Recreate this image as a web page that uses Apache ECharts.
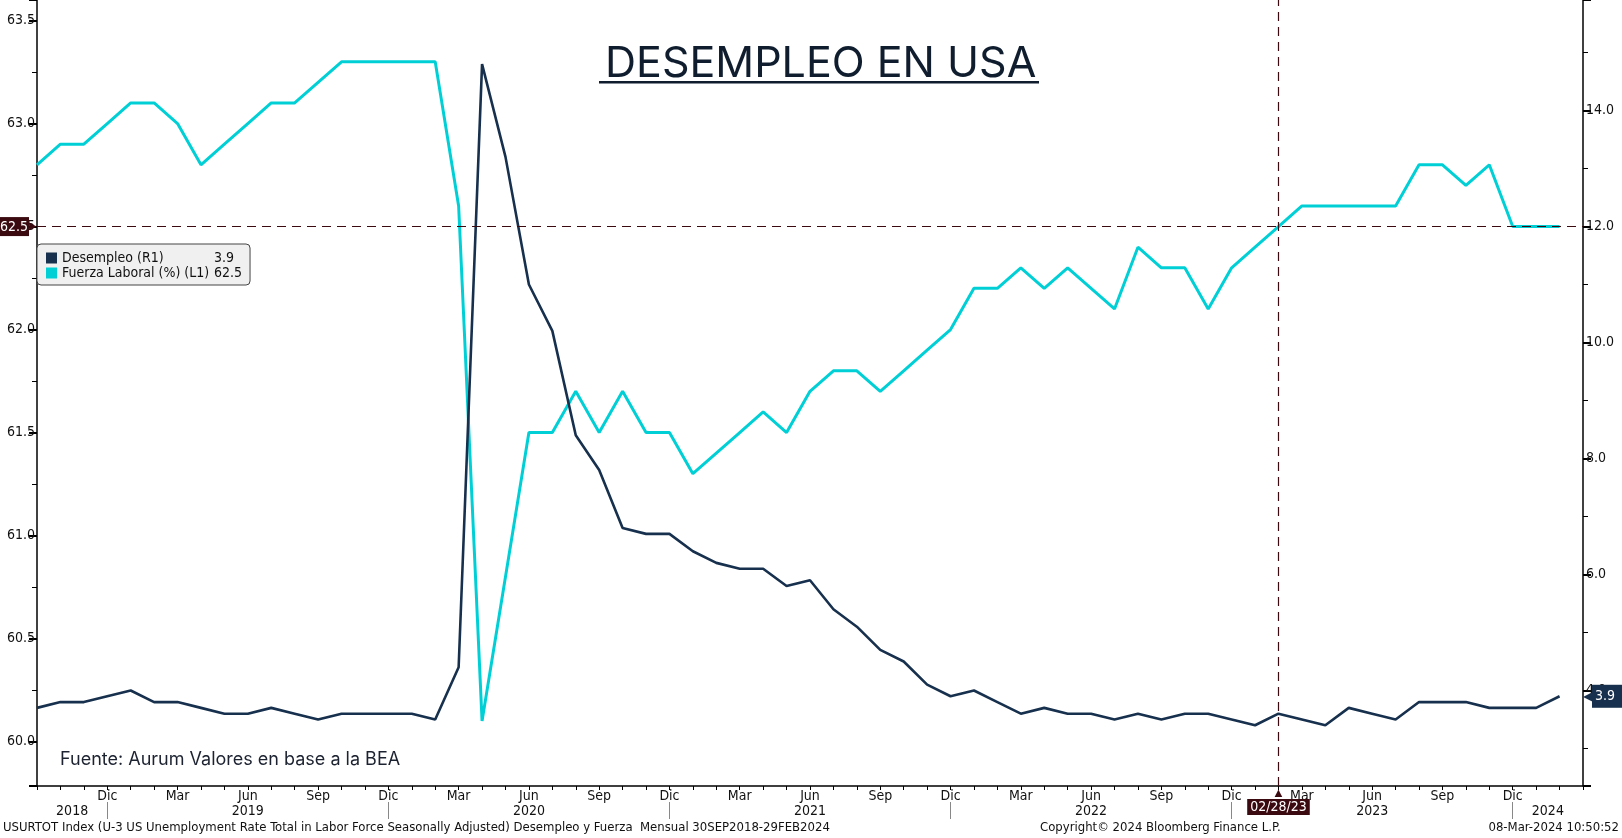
<!DOCTYPE html>
<html>
<head>
<meta charset="utf-8">
<title>Desempleo en USA</title>
<script src="https://cdn.jsdelivr.net/npm/echarts@6/dist/echarts.min.js"></script>
<style>
html, body { margin: 0; padding: 0; background: #fff; }
#chart { width: 1622px; height: 838px; }
</style>
</head>
<body>
<div id="chart"></div>
<script>
// meses (fin de mes) sep-2018 .. mar-2024, el ultimo solo alarga el eje
const meses = [
  '2018-09','2018-10','2018-11','2018-12',
  '2019-01','2019-02','2019-03','2019-04','2019-05','2019-06','2019-07','2019-08','2019-09','2019-10','2019-11','2019-12',
  '2020-01','2020-02','2020-03','2020-04','2020-05','2020-06','2020-07','2020-08','2020-09','2020-10','2020-11','2020-12',
  '2021-01','2021-02','2021-03','2021-04','2021-05','2021-06','2021-07','2021-08','2021-09','2021-10','2021-11','2021-12',
  '2022-01','2022-02','2022-03','2022-04','2022-05','2022-06','2022-07','2022-08','2022-09','2022-10','2022-11','2022-12',
  '2023-01','2023-02','2023-03','2023-04','2023-05','2023-06','2023-07','2023-08','2023-09','2023-10','2023-11','2023-12',
  '2024-01','2024-02','2024-03'
];
const desempleo = [
  3.7, 3.8, 3.8, 3.9,
  4.0, 3.8, 3.8, 3.7, 3.6, 3.6, 3.7, 3.6, 3.5, 3.6, 3.6, 3.6,
  3.6, 3.5, 4.4, 14.8, 13.2, 11.0, 10.2, 8.4, 7.8, 6.8, 6.7, 6.7,
  6.4, 6.2, 6.1, 6.1, 5.8, 5.9, 5.4, 5.1, 4.7, 4.5, 4.1, 3.9,
  4.0, 3.8, 3.6, 3.7, 3.6, 3.6, 3.5, 3.6, 3.5, 3.6, 3.6, 3.5,
  3.4, 3.6, 3.5, 3.4, 3.7, 3.6, 3.5, 3.8, 3.8, 3.8, 3.7, 3.7,
  3.7, 3.9
];
const fuerzaLaboral = [
  62.8, 62.9, 62.9, 63.0,
  63.1, 63.1, 63.0, 62.8, 62.9, 63.0, 63.1, 63.1, 63.2, 63.3, 63.3, 63.3,
  63.3, 63.3, 62.6, 60.1, 60.8, 61.5, 61.5, 61.7, 61.5, 61.7, 61.5, 61.5,
  61.3, 61.4, 61.5, 61.6, 61.5, 61.7, 61.8, 61.8, 61.7, 61.8, 61.9, 62.0,
  62.2, 62.2, 62.3, 62.2, 62.3, 62.2, 62.1, 62.4, 62.3, 62.3, 62.1, 62.3,
  62.4, 62.5, 62.6, 62.6, 62.6, 62.6, 62.6, 62.8, 62.8, 62.7, 62.8, 62.5,
  62.5, 62.5
];
const nombreMes = { '03': 'Mar', '06': 'Jun', '09': 'Sep', '12': 'Dic' };
const nombreDes = 'Desempleo (R1)';
const nombreFuerza = 'Fuerza Laboral (%) (L1)';
const mesMarcado = '2023-02';
const etiquetaMarcada = '02/28/23';
const nivelMarcado = 62.5;

const azul = '#17304d';
const cian = '#00d0d6';
const granate = '#3b0a10';
const fuenteEje = "'DejaVu Sans Condensed', 'Liberation Sans Narrow', sans-serif";
const fuenteTitulo = "Inter, Lato, sans-serif";

// cortes de año (dic) y centro de cada año para las etiquetas de abajo
const cortes = [];
meses.forEach((m, i) => { if (m.slice(5) === '12') cortes.push(i); });
const bordes = [0].concat(cortes, [meses.length - 1]);
const centrosAnio = [];
for (let i = 1; i < bordes.length; i++) centrosAnio.push((bordes[i - 1] + bordes[i]) / 2);

const ultDes = desempleo[desempleo.length - 1];
const ultFuerza = fuerzaLaboral[fuerzaLaboral.length - 1];

const chart = echarts.init(document.getElementById('chart'));

const option = {
  animation: false,
  backgroundColor: '#fff',
  title: {
    text: 'DESEMPLEO EN USA',
    left: 600,
    top: 38,
    textStyle: { fontFamily: fuenteTitulo, fontSize: 43, fontWeight: 'normal', color: '#0f1d2e' }
  },
  legend: {
    data: [nombreDes, nombreFuerza],
    orient: 'vertical',
    left: 37,
    top: 244,
    icon: 'rect',
    itemWidth: 11,
    itemHeight: 11,
    itemGap: 1,
    padding: [7, 8, 5, 9],
    backgroundColor: '#f0f0f0',
    borderColor: '#444',
    borderWidth: 1,
    borderRadius: 4,
    formatter: name => {
      const v = name === nombreDes ? ultDes : ultFuerza;
      return '{n|' + name + '}{v|' + v.toFixed(1) + '}';
    },
    textStyle: {
      fontFamily: fuenteEje,
      fontSize: 14,
      color: '#111',
      rich: {
        n: { width: 152, fontFamily: fuenteEje, fontSize: 14, lineHeight: 17, color: '#111' },
        v: { fontFamily: fuenteEje, fontSize: 14, lineHeight: 17, color: '#111' }
      }
    }
  },
  grid: { left: 37, right: 39, top: 0, bottom: 52, containLabel: false },
  xAxis: [
    {
      type: 'category',
      data: meses,
      boundaryGap: false,
      axisLine: { lineStyle: { color: '#000', width: 1.5 } },
      axisTick: { show: true, interval: 0, length: 4, lineStyle: { color: '#000' } },
      axisLabel: {
        interval: (i, v) => i > 0 && i < meses.length - 1 && nombreMes[v.slice(5)] !== undefined,
        formatter: v => nombreMes[v.slice(5)] || '',
        fontFamily: fuenteEje,
        fontSize: 14,
        color: '#111',
        margin: 3
      },
      splitLine: { show: false }
    },
    {
      type: 'value',
      position: 'bottom',
      offset: 16,
      min: 0,
      max: meses.length - 1,
      axisLine: { show: false },
      axisTick: { show: true, customValues: cortes, length: 17, lineStyle: { color: '#888' } },
      axisLabel: {
        customValues: centrosAnio,
        formatter: v => meses[Math.ceil(v)].slice(0, 4),
        fontFamily: fuenteEje,
        fontSize: 14,
        color: '#111',
        margin: 2
      },
      splitLine: { show: false }
    }
  ],
  yAxis: [
    {
      type: 'value',
      position: 'left',
      min: 59.784,
      max: 63.6,
      splitNumber: 7,
      axisLine: { show: true, lineStyle: { color: '#000', width: 1.5 } },
      axisTick: { show: true, length: 8, lineStyle: { color: '#000', width: 2 } },
      minorTick: { show: true, splitNumber: 2, length: 5, lineStyle: { color: '#000' } },
      axisLabel: {
        showMinLabel: false, showMaxLabel: false,
        formatter: v => v.toFixed(1),
        fontFamily: fuenteEje, fontSize: 14, color: '#111', margin: 2
      },
      splitLine: { show: false }
    },
    {
      type: 'value',
      position: 'right',
      min: 2.353,
      max: 15.905,
      splitNumber: 7,
      axisLine: { show: true, lineStyle: { color: '#000', width: 1.5 } },
      axisTick: { show: true, length: 8, lineStyle: { color: '#000', width: 2 } },
      minorTick: { show: true, splitNumber: 2, length: 5, lineStyle: { color: '#000' } },
      axisLabel: {
        showMinLabel: false, showMaxLabel: false,
        formatter: v => v.toFixed(1),
        fontFamily: fuenteEje, fontSize: 14, color: '#111', margin: 3
      },
      splitLine: { show: false }
    }
  ],
  series: [
    {
      name: nombreFuerza,
      type: 'line',
      yAxisIndex: 0,
      data: fuerzaLaboral,
      symbol: 'none',
      lineStyle: { color: cian, width: 3 },
      itemStyle: { color: cian },
      markLine: {
        silent: true,
        symbol: 'none',
        data: [
          {
            yAxis: nivelMarcado,
            lineStyle: { color: granate, type: [9, 6], width: 1.2 },
            label: {
              position: 'start',
              distance: 0,
              formatter: '{v|' + nivelMarcado.toFixed(1) + '}{a|▶}',
              rich: {
                v: { backgroundColor: granate, color: '#fff', fontFamily: fuenteEje, fontSize: 14, padding: [3, 1, 2, 2] },
                a: { color: granate, fontSize: 10 }
              }
            }
          },
          {
            xAxis: mesMarcado,
            lineStyle: { color: granate, type: [9, 6], width: 1.2 },
            label: {
              position: 'start',
              distance: 1,
              formatter: '{t|▲}\n{d|' + etiquetaMarcada + '}',
              rich: {
                t: { color: granate, fontSize: 13, lineHeight: 12, align: 'center' },
                d: { backgroundColor: granate, color: '#fff', fontFamily: fuenteEje, fontSize: 14, padding: [1, 3, 1, 3], align: 'center' }
              }
            }
          }
        ]
      }
    },
    {
      name: nombreDes,
      type: 'line',
      yAxisIndex: 1,
      data: desempleo,
      symbol: 'none',
      lineStyle: { color: azul, width: 2.6 },
      itemStyle: { color: azul },
      markLine: {
        silent: true,
        symbol: 'none',
        data: [
          {
            yAxis: ultDes,
            lineStyle: { color: 'rgba(0,0,0,0)', width: 1 },
            label: {
              show: true,
              position: 'end',
              distance: 0,
              formatter: '{a|◀}{v|' + ultDes.toFixed(1) + '}',
              rich: {
                a: { color: azul, fontSize: 12 },
                v: { backgroundColor: azul, color: '#fff', fontFamily: fuenteEje, fontSize: 14, padding: [5, 8, 4, 3] }
              }
            }
          }
        ]
      }
    }
  ],
  graphic: [
    {
      type: 'rect',
      shape: { x: 599, y: 81, width: 440, height: 2.5 },
      style: { fill: '#0f1d2e' },
      silent: true
    },
    {
      type: 'text',
      left: 60,
      top: 751,
      style: { text: 'Fuente: Aurum Valores en base a la BEA', font: '18px ' + fuenteTitulo, fill: '#1c2230' },
      silent: true
    },
    {
      type: 'text',
      left: 3,
      top: 821,
      style: {
        text: 'USURTOT Index (U-3 US Unemployment Rate Total in Labor Force Seasonally Adjusted) Desempleo y Fuerza  Mensual 30SEP2018-29FEB2024',
        font: '13px ' + fuenteEje, fill: '#111'
      },
      silent: true
    },
    {
      type: 'text',
      left: 1040,
      top: 821,
      style: { text: 'Copyright\u00a9 2024 Bloomberg Finance L.P.', font: '13px ' + fuenteEje, fill: '#111' },
      silent: true
    },
    {
      type: 'text',
      right: 3,
      top: 821,
      style: { text: '08-Mar-2024 10:50:52', font: '13px ' + fuenteEje, fill: '#111' },
      silent: true
    }
  ]
};

chart.setOption(option);
</script>
</body>
</html>
